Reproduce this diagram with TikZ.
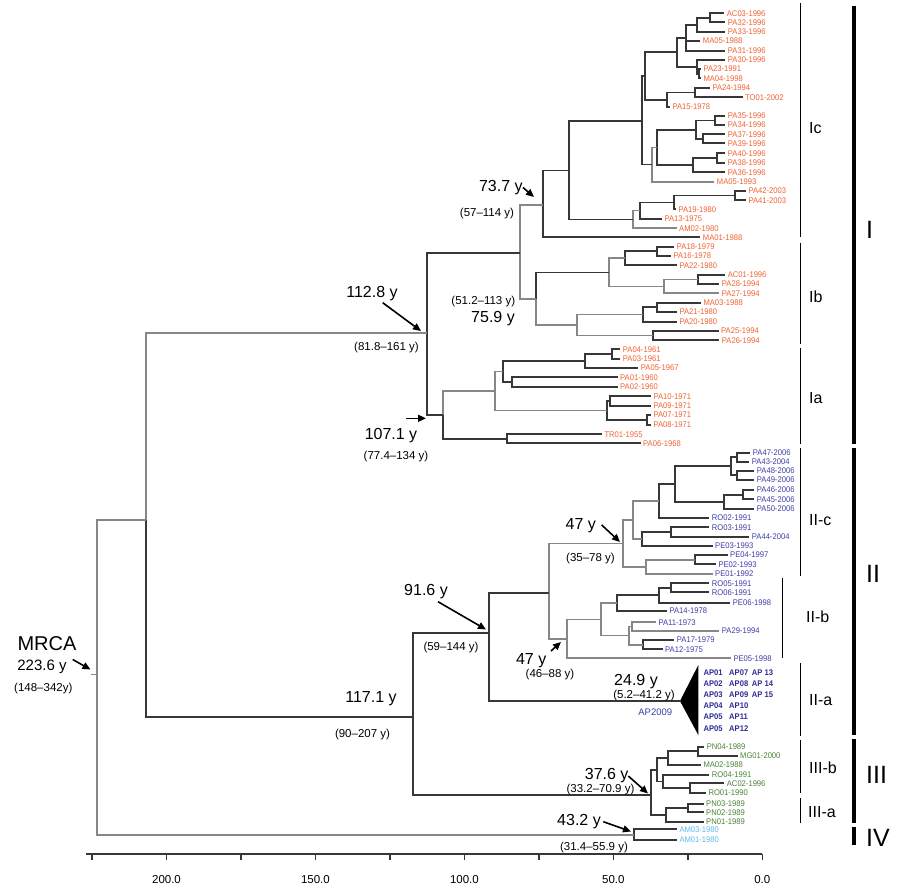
\documentclass[tikz,border=0pt]{standalone}
\usepackage{fontspec}
\setmainfont{Liberation Sans}
\newfontfamily\leaffont[FakeStretch=0.93]{Liberation Sans}
\usetikzlibrary{arrows.meta}
\definecolor{cI}{RGB}{240,98,50}
\definecolor{cII}{RGB}{62,62,168}
\definecolor{cAP}{RGB}{45,45,150}
\definecolor{cIII}{RGB}{74,130,56}
\definecolor{cIV}{RGB}{95,185,235}
\definecolor{brc}{RGB}{55,55,55}
\definecolor{brl}{RGB}{135,135,135}
\newcommand\leafnode[5]{\coordinate (#1) at ({#2-2.5},#3);\node[leaflbl,text=#5] (t#1) at (#2,#3) {#4};}
\newcommand\kids[2]{\foreach \kk in {#2}{\draw[br] (#1) |- (\kk);}}
\newcommand\kidsg[2]{\foreach \kk in {#2}{\draw[brg] (#1) |- (\kk);}}
\newcommand\inode[3]{\coordinate (#1) at (#2,#3);}
\tikzset{
  br/.style={draw=brc,line width=1.8pt},
  brg/.style={draw=brl,line width=1.7pt},
  leaflbl/.style={anchor=west,inner sep=0pt,font=\leaffont\fontsize{8.2}{8}\selectfont,text height=5.9pt,text depth=0pt},
  aplbl/.style={anchor=west,inner sep=0pt,text=cAP,font=\leaffont\bfseries\fontsize{8.2}{8}\selectfont,text height=5.9pt,text depth=0pt},
  agelbl/.style={inner sep=0pt,font=\fontsize{16}{16}\selectfont,text height=11.5pt,text depth=0pt},
  cilbl/.style={inner sep=0pt,font=\fontsize{11.5}{12}\selectfont,text height=8.2pt,text depth=0pt},
  arr/.style={-{Triangle[length=8pt,width=7pt]},line width=1.6pt,black},
  thinbr/.style={line width=1.4pt,black},
  thickbr/.style={line width=3.8pt,black},
  subbr/.style={anchor=west,inner sep=0pt,font=\fontsize{16}{16}\selectfont,text height=11.5pt,text depth=0pt},
  bigbr/.style={anchor=west,inner sep=0pt,font=\fontsize{25}{25}\selectfont,text height=17.9pt,text depth=0pt},
  axis/.style={line width=1.5pt,draw=brc},
  axlbl/.style={inner sep=0pt,font=\fontsize{11.5}{12}\selectfont,text height=8.2pt,text depth=0pt}
}
\begin{document}
\begin{tikzpicture}[x=1pt,y=-1pt]
\useasboundingbox (0,0) rectangle (900,892);
% ---------------- leaves: clade I
\leafnode{l1}{726.7}{13.3}{AC03-1996}{cI}
\leafnode{l2}{727.7}{22.3}{PA32-1996}{cI}
\leafnode{l3}{727.7}{31.7}{PA33-1996}{cI}
\leafnode{l4}{702.7}{41}{MA05-1988}{cI}
\leafnode{l5}{727.7}{50.7}{PA31-1996}{cI}
\leafnode{l6}{727.7}{60}{PA30-1996}{cI}
\leafnode{l7}{703.3}{69}{PA23-1991}{cI}
\leafnode{l8}{703.3}{78.3}{MA04-1998}{cI}
\leafnode{l9}{712.3}{87.7}{PA24-1994}{cI}
\leafnode{l10}{745}{97.3}{TO01-2002}{cI}
\leafnode{l11}{672.3}{106.7}{PA15-1978}{cI}
\leafnode{l12}{727.7}{116}{PA35-1996}{cI}
\leafnode{l13}{727.7}{125}{PA34-1996}{cI}
\leafnode{l14}{727.7}{134.3}{PA37-1996}{cI}
\leafnode{l15}{727.7}{143.3}{PA39-1996}{cI}
\leafnode{l16}{727.7}{153.3}{PA40-1996}{cI}
\leafnode{l17}{727.7}{162.7}{PA38-1996}{cI}
\leafnode{l18}{727.7}{172.3}{PA36-1996}{cI}
\leafnode{l19}{716.7}{181.7}{MA05-1993}{cI}
\leafnode{l20}{748.3}{190.7}{PA42-2003}{cI}
\leafnode{l21}{748.3}{200.3}{PA41-2003}{cI}
\leafnode{l22}{678.3}{209.3}{PA19-1980}{cI}
\leafnode{l23}{664.3}{218.7}{PA13-1975}{cI}
\leafnode{l24}{679}{228.3}{AM02-1980}{cI}
\leafnode{l25}{702.7}{237.3}{MA01-1988}{cI}
\leafnode{l26}{676.7}{246.7}{PA18-1979}{cI}
\leafnode{l27}{673.3}{256}{PA16-1978}{cI}
\leafnode{l28}{679.3}{265.3}{PA22-1980}{cI}
\leafnode{l29}{727.7}{275}{AC01-1996}{cI}
\leafnode{l30}{721.7}{284}{PA28-1994}{cI}
\leafnode{l31}{721.7}{293.3}{PA27-1994}{cI}
\leafnode{l32}{703.3}{302.7}{MA03-1988}{cI}
\leafnode{l33}{679.3}{312}{PA21-1980}{cI}
\leafnode{l34}{679.3}{321.7}{PA20-1980}{cI}
\leafnode{l35}{721}{330.7}{PA25-1994}{cI}
\leafnode{l36}{721.7}{340.3}{PA26-1994}{cI}
\leafnode{l37}{622.7}{349.3}{PA04-1961}{cI}
\leafnode{l38}{622.7}{359}{PA03-1961}{cI}
\leafnode{l39}{640.7}{368}{PA05-1967}{cI}
\leafnode{l40}{620}{377.3}{PA01-1960}{cI}
\leafnode{l41}{620}{387}{PA02-1960}{cI}
\leafnode{l42}{653.3}{396.3}{PA10-1971}{cI}
\leafnode{l43}{653.3}{405.7}{PA09-1971}{cI}
\leafnode{l44}{653.3}{415}{PA07-1971}{cI}
\leafnode{l45}{653.3}{424.7}{PA08-1971}{cI}
\leafnode{l46}{604.3}{434.3}{TR01-1955}{cI}
\leafnode{l47}{643}{443.3}{PA06-1968}{cI}
% ---------------- leaves: clade II
\leafnode{l48}{752.7}{452.7}{PA47-2006}{cII}
\leafnode{l49}{751.7}{462}{PA43-2004}{cII}
\leafnode{l50}{756.7}{470.7}{PA48-2006}{cII}
\leafnode{l51}{756.7}{480}{PA49-2006}{cII}
\leafnode{l52}{756.7}{490}{PA46-2006}{cII}
\leafnode{l53}{756.7}{499.3}{PA45-2006}{cII}
\leafnode{l54}{756.7}{509}{PA50-2006}{cII}
\leafnode{l55}{711.7}{517.7}{RO02-1991}{cII}
\leafnode{l56}{711.7}{527.3}{RO03-1991}{cII}
\leafnode{l57}{751.7}{536.7}{PA44-2004}{cII}
\leafnode{l58}{715}{546}{PE03-1993}{cII}
\leafnode{l59}{730}{555}{PE04-1997}{cII}
\leafnode{l60}{718.3}{564.3}{PE02-1993}{cII}
\leafnode{l61}{715}{574}{PE01-1992}{cII}
\leafnode{l62}{711.7}{583.3}{RO05-1991}{cII}
\leafnode{l63}{711.7}{592.3}{RO06-1991}{cII}
\leafnode{l64}{732.7}{602.7}{PE06-1998}{cII}
\leafnode{l65}{669.3}{611}{PA14-1978}{cII}
\leafnode{l66}{658.3}{622.3}{PA11-1973}{cII}
\leafnode{l67}{721.7}{630.7}{PA29-1994}{cII}
\leafnode{l68}{676.7}{640}{PA17-1979}{cII}
\leafnode{l69}{665}{649.3}{PA12-1975}{cII}
\leafnode{l70}{733.3}{658.3}{PE05-1998}{cII}
% ---------------- leaves: clade III
\leafnode{l71}{706.7}{746.7}{PN04-1989}{cIII}
\leafnode{l72}{740}{755.7}{MG01-2000}{cIII}
\leafnode{l73}{703.3}{765}{MA02-1988}{cIII}
\leafnode{l74}{711.7}{774.7}{RO04-1991}{cIII}
\leafnode{l75}{726.7}{783.3}{AC02-1996}{cIII}
\leafnode{l76}{708.3}{792.7}{RO01-1990}{cIII}
\leafnode{l77}{706}{804}{PN03-1989}{cIII}
\leafnode{l78}{706}{812.3}{PN02-1989}{cIII}
\leafnode{l79}{706}{821.7}{PN01-1989}{cIII}
% ---------------- leaves: clade IV
\leafnode{l80}{679.3}{829.3}{AM03-1980}{cIV}
\leafnode{l81}{679.3}{840}{AM01-1980}{cIV}
% ---------------- internal nodes
\inode{n1}{710}{17.8}\inode{n2}{696.7}{24.8}\inode{n3}{686}{37.7}
\inode{n5}{699}{73.7}\inode{n6}{696.7}{66.8}\inode{nL}{677.3}{52.3}
\inode{n7}{695}{92.5}\inode{nM}{666.7}{99.6}\inode{nK1}{645}{76}
\inode{q1}{715}{120.5}\inode{q2}{703.3}{138.8}\inode{nQ}{696}{129.7}
\inode{r1}{716.7}{158}\inode{nR}{693.3}{165.2}\inode{nP}{657.3}{147.5}
\inode{nN}{651.7}{164.5}\inode{nK0}{641.7}{121.3}
\inode{s1}{735}{195.5}\inode{nS}{674}{202.4}\inode{nT}{640}{210.5}\inode{nU}{632.7}{219.4}
\inode{nIn}{569.3}{170.4}\inode{nIc}{543.3}{205}
\inode{d1}{656.7}{251.3}\inode{nD}{625}{258.3}\inode{e1}{697.7}{279.5}\inode{nE}{664.3}{286.4}
\inode{nF}{609.3}{272.4}\inode{g1}{656.7}{307.3}\inode{nG}{643.3}{314.5}\inode{h1}{652.7}{335.5}
\inode{nH}{576.7}{325}\inode{nIb}{536}{299.3}\inode{nIcb}{520}{253.3}
\inode{a1}{611.7}{354.2}\inode{a2}{585}{361}\inode{a3}{512.3}{382.2}\inode{nB}{503.3}{371.6}
\inode{c1}{610}{401}\inode{c2}{646.7}{419.9}\inode{nC}{607}{410.4}\inode{nA}{495}{391}
\inode{t1}{506.7}{438.8}\inode{nIa}{443.3}{415}\inode{n112}{427.3}{333.3}
\inode{p1}{736.7}{457.3}\inode{p2}{736.7}{475.3}\inode{p3}{731}{466.3}
\inode{p4}{743.3}{494.7}\inode{p5}{724}{501.8}\inode{nV}{675}{484}\inode{nW}{659}{500.8}
\inode{y1}{670.7}{532}\inode{nY}{641.7}{539}\inode{nX}{632.7}{519.9}
\inode{z1}{695}{559.7}\inode{nZ}{646}{566.8}\inode{nIIc}{622.7}{543.4}
\inode{b1}{671}{587.8}\inode{b2}{659.3}{595.2}\inode{b3}{616.7}{603.1}
\inode{b4}{631.7}{626.5}\inode{b5}{642.7}{644.7}\inode{b6}{629.3}{635.6}
\inode{b7}{600.7}{619.4}\inode{nIIb}{566.7}{638.9}\inode{nIIbc}{549.3}{593.3}
\inode{n91}{489.3}{633.3}
\inode{m1}{698.3}{751.2}\inode{m2}{668.3}{758.1}\inode{m3}{690}{788}\inode{m4}{663.3}{781.4}
\inode{nIIIb}{657.3}{769.8}\inode{k1}{688.3}{808.2}\inode{nIIIa}{666}{815}\inode{nIII}{650.7}{795}
\inode{n117}{413.3}{717.3}\inode{n207}{145.7}{520}\inode{nIV}{634}{834.7}
\inode{nroot}{96.7}{674.5}\inode{rstub}{90.7}{674.5}
% triangle (collapsed II-a)
\coordinate (apx) at (680,701);
\coordinate (trt) at (698.3,665);
\coordinate (trb) at (698.3,735);
\fill[black] (apx) -- (trt) -- (trb) -- cycle;
% ---------------- edges
\kids{n1}{l1,l2}\kids{n2}{n1,l3}\kids{n3}{n2,l4,l5}
\kids{n5}{l7,l8}\kids{n6}{l6,n5}\kids{nL}{n3,n6}
\kids{n7}{l9,l10}\kids{nM}{n7,l11}\kids{nK1}{nL,nM}
\kids{q1}{l12,l13}\kids{q2}{l14,l15}\kids{nQ}{q1,q2}
\kids{r1}{l16,l17}\kids{nR}{r1,l18}\kids{nP}{nQ,nR}\kidsg{nN}{nP,l19}
\kids{nK0}{nK1,nN}
\kids{s1}{l20,l21}\kids{nS}{s1,l22}\kids{nT}{nS,l23}\kidsg{nU}{nT,l24}
\kids{nIn}{nK0,nU}\kids{nIc}{nIn,l25}
\kids{d1}{l26,l27}\kids{nD}{d1,l28}\kids{e1}{l29,l30}\kidsg{nE}{e1,l31}
\kidsg{nF}{nD,nE}\kids{g1}{l32,l33}\kids{nG}{g1,l34}\kids{h1}{l35,l36}
\kidsg{nH}{nG,h1}\kids{nIb}{nF}\kidsg{nIb}{nH}\kidsg{nIcb}{nIc,nIb}
\kids{a1}{l37,l38}\kids{a2}{a1,l39}\kids{a3}{l40,l41}\kids{nB}{a2,a3}
\kids{c1}{l42,l43}\kids{c2}{l44,l45}\kids{nC}{c1,c2}\kidsg{nA}{nB,nC}
\kids{t1}{l46,l47}\kids{nIa}{t1}\kidsg{nIa}{nA}\kids{n112}{nIcb,nIa}
\kids{p1}{l48,l49}\kids{p2}{l50,l51}\kids{p3}{p1,p2}
\kids{p4}{l52,l53}\kids{p5}{p4,l54}\kids{nV}{p3,p5}\kids{nW}{nV,l55}
\kids{y1}{l56,l57}\kids{nY}{y1,l58}\kidsg{nX}{nW,nY}
\kids{z1}{l59,l60}\kidsg{nZ}{z1,l61}\kidsg{nIIc}{nX,nZ}
\kids{b1}{l62,l63}\kids{b2}{b1,l64}\kids{b3}{b2,l65}
\kidsg{b4}{l66,l67}\kids{b5}{l68,l69}\kidsg{b6}{b4,b5}
\kidsg{b7}{b3,b6}\kidsg{nIIb}{b7,l70}\kidsg{nIIbc}{nIIc,nIIb}
\kids{n91}{nIIbc,apx}
\kids{m1}{l71,l72}\kids{m2}{m1,l73}\kids{m3}{l75,l76}\kids{m4}{l74,m3}
\kids{nIIIb}{m2,m4}\kids{k1}{l77,l78}\kids{nIIIa}{k1,l79}\kids{nIII}{nIIIb,nIIIa}
\kids{n117}{n91,nIII}\kidsg{n207}{n112}\kids{n207}{n117}
\kids{nIV}{l80,l81}\kidsg{nroot}{n207,nIV}
\draw[brg] (rstub) -- (nroot);
% ---------------- AP labels
\node[aplbl] (ap01) at (703.3,672.3) {AP01};
\node[aplbl] (ap02) at (703.3,683.3) {AP02};
\node[aplbl] (ap03) at (703.3,694.3) {AP03};
\node[aplbl] (ap04) at (703.3,705.7) {AP04};
\node[aplbl] (ap05) at (703.3,716.7) {AP05};
\node[aplbl] (ap05b) at (703.3,728.3) {AP05};
\node[aplbl] (ap07) at (729,672.3) {AP07};
\node[aplbl] (ap08) at (729,683.3) {AP08};
\node[aplbl] (ap09) at (729,694.3) {AP09};
\node[aplbl] (ap10) at (729,705.7) {AP10};
\node[aplbl] (ap11) at (729,716.7) {AP11};
\node[aplbl] (ap12) at (729,728.3) {AP12};
\node[aplbl] (ap13) at (751.7,672.3) {AP 13};
\node[aplbl] (ap14) at (751.7,683.3) {AP 14};
\node[aplbl] (ap15) at (751.7,694.3) {AP 15};
\node[inner sep=0pt,text=cII,font=\fontsize{9.5}{9}\selectfont,text height=6.8pt,text depth=0pt] (ap2009) at (655.3,711.7) {AP2009};
% ---------------- annotations
\node[inner sep=0pt,font=\fontsize{20}{20}\selectfont,text height=14.3pt,text depth=0pt] (mrca) at (47,643) {MRCA};
\node[inner sep=0pt,font=\fontsize{15}{15}\selectfont,text height=10.7pt,text depth=0pt] (mrcaage) at (42,665) {223.6 y};
\node[cilbl] (mrcaci) at (43.3,687) {(148–342y)};
\node[agelbl] (g112) at (372,291.7) {112.8 y};
\node[cilbl] (c112) at (386.5,346.7) {(81.8–161 y)};
\node[agelbl] (g107) at (391,434) {107.1 y};
\node[cilbl] (c107) at (396,455) {(77.4–134 y)};
\node[agelbl] (g737) at (500.8,186) {73.7 y};
\node[cilbl] (c737) at (487,212.3) {(57–114 y)};
\node[cilbl] (c759) at (483.3,300.7) {(51.2–113 y)};
\node[agelbl] (g759) at (493,316.7) {75.9 y};
\node[agelbl] (g47a) at (580.8,523.3) {47 y};
\node[cilbl] (c47a) at (590.5,557) {(35–78 y)};
\node[agelbl] (g916) at (426,590) {91.6 y};
\node[cilbl] (c916) at (451,646.7) {(59–144 y)};
\node[agelbl] (g47b) at (531.2,658.3) {47 y};
\node[cilbl] (c47b) at (550,673.3) {(46–88 y)};
\node[agelbl] (g1171) at (371,697) {117.1 y};
\node[cilbl] (c1171) at (362.5,733) {(90–207 y)};
\node[agelbl] (g249) at (636,680) {24.9 y};
\node[cilbl] (c249) at (644,694) {(5.2–41.2 y)};
\node[agelbl] (g376) at (606.7,774) {37.6 y};
\node[cilbl] (c376) at (600.5,788.3) {(33.2–70.9 y)};
\node[agelbl] (g432) at (579,819.3) {43.2 y};
\node[cilbl] (c432) at (594,846.7) {(31.4–55.9 y)};
% arrows
\coordinate (aMs) at (72.7,659.5); \coordinate (aMe) at (90.5,669.5);
\coordinate (a112s) at (382.7,302.7); \coordinate (a112e) at (421,331);
\coordinate (a107s) at (406,418.3); \coordinate (a107e) at (426,418.3);
\coordinate (a737s) at (523,187.5); \coordinate (a737e) at (534,197);
\coordinate (a47as) at (601.7,525); \coordinate (a47ae) at (620,542);
\coordinate (a916s) at (438,601.7); \coordinate (a916e) at (486,629.5);
\coordinate (a47bs) at (551,651); \coordinate (a47be) at (561,642);
\coordinate (a376s) at (628.3,776); \coordinate (a376e) at (648,793.5);
\coordinate (a432s) at (603.3,821.7); \coordinate (a432e) at (631,831.5);
\draw[arr] (aMs) -- (aMe);
\draw[arr] (a112s) -- (a112e);
\draw[arr] (a107s) -- (a107e);
\draw[arr] (a737s) -- (a737e);
\draw[arr] (a47as) -- (a47ae);
\draw[arr] (a916s) -- (a916e);
\draw[arr] (a47bs) -- (a47be);
\draw[arr] (a376s) -- (a376e);
\draw[arr] (a432s) -- (a432e);
% ---------------- brackets
\draw[thinbr] (800.7,3.3) -- (800.7,236.7);
\draw[thinbr] (800.7,242.7) -- (800.7,344.3);
\draw[thinbr] (800.7,348.3) -- (800.7,444);
\draw[thinbr] (800.7,447.7) -- (800.7,575.7);
\draw[thinbr] (782.3,578) -- (782.3,658.3);
\draw[thinbr] (800.7,663.3) -- (800.7,736);
\draw[thinbr] (800.7,740) -- (800.7,793.3);
\draw[thinbr] (800.7,798.3) -- (800.7,822.7);
\draw[thickbr] (854,5.7) -- (854,443.5);
\draw[thickbr] (854,447.7) -- (854,735);
\draw[thickbr] (854,739) -- (854,822.7);
\draw[thickbr] (854,826.7) -- (854,845);
\node[subbr] (bIc) at (809,128) {Ic};
\node[subbr] (bIb) at (809,297) {Ib};
\node[subbr] (bIa) at (809,398) {Ia};
\node[subbr] (bIIc) at (809,520) {II-c};
\node[subbr] (bIIb) at (806,617) {II-b};
\node[subbr] (bIIa) at (809,700) {II-a};
\node[subbr] (bIIIb) at (809,768) {III-b};
\node[subbr] (bIIIa) at (808,812) {III-a};
\node[bigbr] (bI) at (866,230) {I};
\node[bigbr] (bII) at (866,574) {II};
\node[bigbr] (bIII) at (866,775) {III};
\node[bigbr] (bIV) at (866,838) {IV};
% ---------------- axis
\coordinate (axL) at (86,854);
\coordinate (axR) at (762.3,854);
\draw[axis] (axL) -- (axR);
\foreach \v in {0,25,...,225}{\draw[axis] ({762.3-2.979*\v},854) -- ++(0,6);}
\foreach \v/\t in {0/0.0,50/50.0,100/100.0,150/150.0,200/200.0}{
  \node[axlbl] (ax\v) at ({762.3-2.979*\v},879) {\t};}
\end{tikzpicture}
\end{document}
